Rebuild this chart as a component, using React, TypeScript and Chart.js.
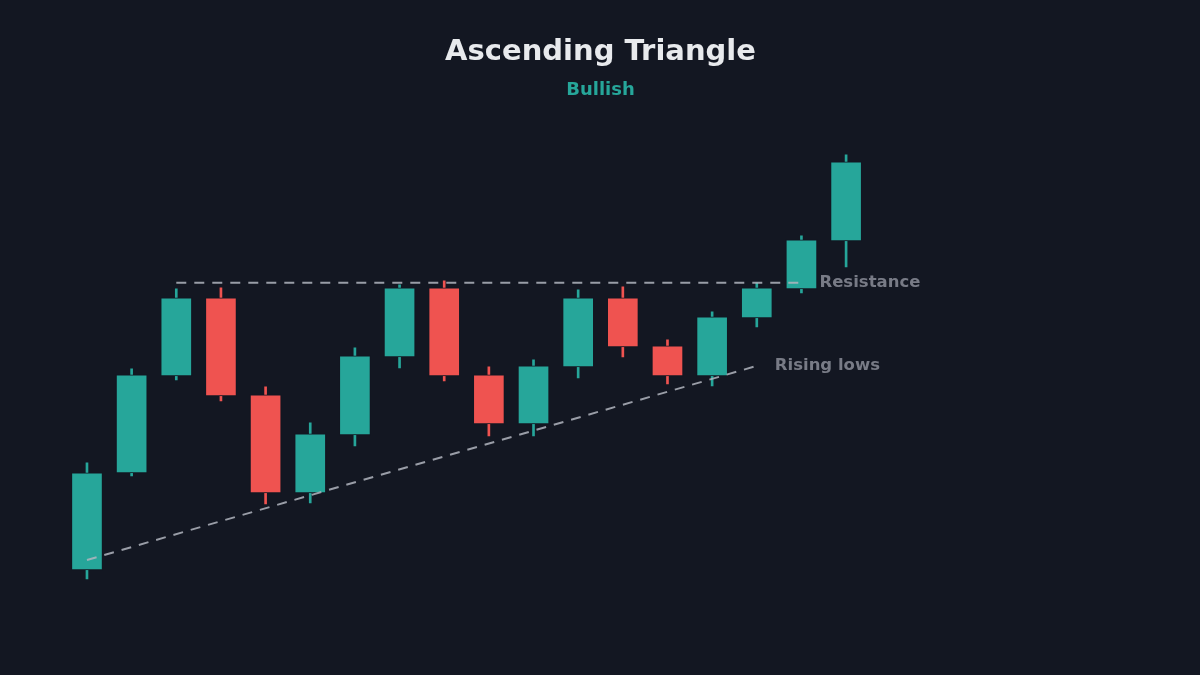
import { useRef, useEffect } from "react";
import { Chart, registerables } from "chart.js";

Chart.register(...registerables);

// Candle data (price units)
const idx = [0, 1, 2, 3, 4, 5, 6, 7, 8, 9, 10, 11, 12, 13, 14, 15, 16, 17];
const opens = [106.0, 125.4, 144.8, 160.4, 141.0, 121.4, 133.0, 148.6, 162.4, 145.0, 135.2, 146.6, 160.4, 150.8, 144.8, 156.4, 162.2, 171.8];
const highs = [127.4, 146.2, 162.2, 162.4, 142.6, 135.4, 150.4, 163.0, 163.8, 146.6, 148.0, 162.0, 162.6, 152.0, 157.6, 163.4, 172.8, 189.0];
const lows = [104.2, 124.8, 144.0, 139.8, 119.2, 119.4, 130.8, 146.4, 143.8, 132.8, 132.8, 144.4, 148.6, 143.2, 142.8, 154.6, 161.4, 166.6];
const closes = [125.4, 145.0, 160.4, 140.8, 121.4, 133.2, 148.8, 162.4, 144.8, 135.2, 146.8, 160.4, 150.6, 144.8, 156.6, 162.4, 172.0, 187.6];

// Pattern lines
const resistanceX = [2, 16];
const resistanceY = [163.4, 163.4];
const lowsX = [0, 15];
const lowsY = [108.0, 146.8];

const BG = "#131722";
const UP = "#26a69a";
const DOWN = "#ef5350";
const FONT = '"DejaVu Sans", sans-serif';

export default function App() {
  const canvasRef = useRef<HTMLCanvasElement | null>(null);
  const chartRef = useRef<Chart | null>(null);

  useEffect(() => {
    if (chartRef.current) {
      chartRef.current.destroy();
      chartRef.current = null;
    }
    const canvas = canvasRef.current;
    if (!canvas) return;

    const colors = idx.map((i) => (closes[i] >= opens[i] ? UP : DOWN));

    // Label at the end of each pattern line
    const lineLabels = {
      id: "lineLabels",
      afterDatasetsDraw(chart: any) {
        const ctx = chart.ctx;
        chart.data.datasets.forEach((ds: any, i: number) => {
          if (!ds.endLabel) return;
          const pts = chart.getDatasetMeta(i).data;
          const last = pts[pts.length - 1];
          ctx.save();
          ctx.font = `bold 16.5px ${FONT}`;
          ctx.fillStyle = "#787b86";
          ctx.textAlign = "left";
          ctx.textBaseline = "middle";
          ctx.fillText(ds.endLabel, last.x + 18, last.y);
          ctx.restore();
        });
      },
    };

    chartRef.current = new Chart(canvas, {
      type: "bar",
      data: {
        datasets: [
          {
            type: "line",
            label: "Resistance",
            endLabel: "Resistance",
            data: resistanceX.map((x, i) => ({ x, y: resistanceY[i] })),
            borderColor: "rgba(178, 181, 190, 0.85)",
            borderWidth: 2,
            borderDash: [10, 8],
            pointRadius: 0,
            order: 0,
          },
          {
            type: "line",
            label: "Rising lows",
            endLabel: "Rising lows",
            data: lowsX.map((x, i) => ({ x, y: lowsY[i] })),
            borderColor: "rgba(178, 181, 190, 0.85)",
            borderWidth: 2,
            borderDash: [10, 8],
            pointRadius: 0,
            order: 0,
          },
          {
            label: "body",
            data: idx.map((i) => ({ x: i, y: [opens[i], closes[i]] })),
            backgroundColor: colors,
            borderColor: BG,
            borderWidth: 1,
            borderSkipped: false,
            barThickness: 31,
            grouped: false,
            order: 1,
          },
          {
            label: "wick",
            data: idx.map((i) => ({ x: i, y: [lows[i], highs[i]] })),
            backgroundColor: colors,
            borderWidth: 0,
            barThickness: 2,
            grouped: false,
            order: 2,
          },
        ] as any,
      },
      options: {
        responsive: true,
        maintainAspectRatio: false,
        animation: false,
        layout: {
          padding: { left: 20, right: 19, bottom: 35 },
        },
        plugins: {
          legend: { display: false },
          tooltip: { enabled: false },
          title: {
            display: true,
            text: "Ascending Triangle",
            color: "#e8eaed",
            font: { family: FONT, size: 29, weight: "bold" },
            padding: { top: 35, bottom: 0 },
          },
          subtitle: {
            display: true,
            text: "Bullish",
            color: UP,
            font: { family: FONT, size: 18, weight: "bold" },
            padding: { top: 9.4, bottom: 39 },
          },
        },
        scales: {
          x: {
            type: "linear",
            display: false,
            offset: false,
            min: -1.5,
            max: 24.5,
          },
          y: {
            display: false,
            min: 92,
            max: 192,
          },
        },
      },
      plugins: [lineLabels],
    });

    return () => {
      chartRef.current?.destroy();
      chartRef.current = null;
    };
  }, []);

  return (
    <div style={{ position: "fixed", inset: 0, background: BG }}>
      <canvas ref={canvasRef} />
    </div>
  );
}
